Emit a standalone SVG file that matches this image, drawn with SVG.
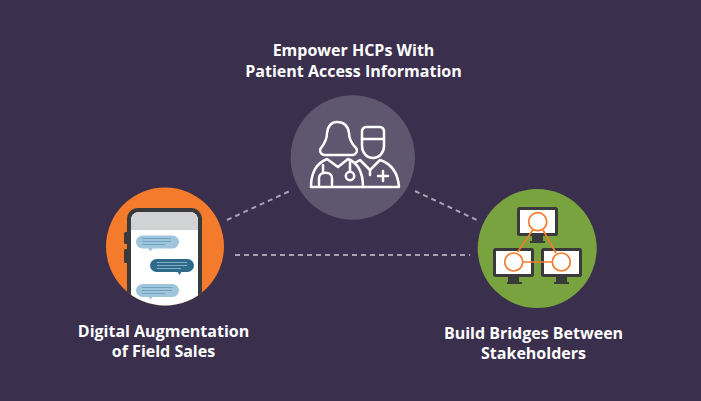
<svg xmlns="http://www.w3.org/2000/svg" width="701" height="401" viewBox="0 0 701 401">
<style>
.t{font-family:"Open Sans","Liberation Sans",sans-serif;font-weight:700;font-size:16px;fill:#fff;text-anchor:middle}
.d{fill:none;stroke:#a9a3b3;stroke-width:2;stroke-dasharray:5 4}
.w{fill:none;stroke:#fff;stroke-width:2.5;stroke-linejoin:round;stroke-linecap:round}
.b1{fill:#9fc5dc}.b2{fill:#2f6a8b}
.l1{stroke:#6fa3c0;stroke-width:1.2}.l2{stroke:#7fb0cc;stroke-width:1.2}
.m{fill:#fff;stroke:#3a3a3c;stroke-width:3}
.s{fill:#3a3a3c}
.o{fill:#fff;stroke:#f47b2b;stroke-width:1.7}
.c{stroke:#f47b2b;stroke-width:1.7;fill:none}
</style>
<defs><clipPath id="cp"><circle cx="165" cy="246.500" r="59"/></clipPath></defs>
<rect width="701" height="401" fill="#3a2f4d"/>
<g id="connectors">
<path class="d" d="M227 220L292 190"/>
<path class="d" d="M415 191L479 221"/>
<path class="d" d="M235 255H470"/>
</g>
<g id="node-hcp">
<circle cx="352.800" cy="157.500" r="62.200" fill="#5f566f"/>
<path class="w" d="M324 155C320 154 319 150 321 148C325 143 327 138 327 133C328 126 331 122 337 122C344 122 348 126 349 133C349 138 351 143 356 148C358 150 357 154 353 155Z"/>
<path class="w" d="M311 187C311 172 317 163 327 159L338 167L348 159C358 163 363 172 363 187Z"/>
<path class="w" d="M319 185V178C319 171 332 171 332 178V185"/>
<path class="w" d="M323 165V172"/>
<circle class="w" cx="350" cy="176" r="4.200"/>
<path class="w" d="M350 160V171"/>
<path class="w" d="M366 127H380C382 127 384 129 384 131V146C384 153 379 158 373 158C367 158 362 153 362 146V131C362 129 364 127 366 127Z"/>
<path class="w" d="M362 139H384"/>
<path class="w" d="M355 163L360 160L370 170L380 160C392 164 398 174 399 187H363"/>
<path class="w" d="M370 170V175M383 171V181M378 176H388"/>
<text class="t" x="353.500" y="56">Empower HCPs With</text>
<text class="t" x="353.500" y="77">Patient Access Information</text>
</g>
<g id="node-field">
<circle cx="165" cy="246.500" r="59" fill="#f47b2b"/>
<g clip-path="url(#cp)">
<rect x="124" y="232" width="5" height="12" rx="1.500" class="s"/>
<rect x="124" y="249" width="5" height="14" rx="1.500" class="s"/>
<rect x="127" y="208" width="75" height="110" rx="11" class="s"/>
<rect x="131" y="212" width="67" height="110" rx="8" fill="#fff"/>
<path d="M131 230V220a8 8 0 0 1 8-8h51a8 8 0 0 1 8 8v10Z" fill="#d1d2d4"/>
<rect x="136" y="235.500" width="43" height="13" rx="6.500" class="b1"/>
<path class="b1" d="M148 248h5l-2.500 3.500Z"/>
<path class="l1" d="M142 238.500H171M142 241.500H171M142 244.500H165"/>
<rect x="150" y="259" width="44" height="13" rx="6.500" class="b2"/>
<path class="b2" d="M177 271h5l-2.500 4Z"/>
<path class="l2" d="M157 262.500H187M157 265.500H187M157 268.500H181"/>
<rect x="136" y="284" width="43" height="13" rx="6.500" class="b1"/>
<path class="b1" d="M148 296h5l-2.500 3.500Z"/>
<path class="l1" d="M142 287.500H172M142 290.500H172M142 293.500H165"/>
</g>
<text class="t" x="163.500" y="337">Digital Augmentation</text>
<text class="t" x="163.500" y="357">of Field Sales</text>
</g>
<g id="node-bridges">
<circle cx="537.200" cy="248.500" r="59.500" fill="#78a33f"/>
<rect class="s" x="532" y="236" width="11" height="6"/><rect class="s" x="530" y="241" width="15" height="2"/>
<rect class="s" x="508" y="277" width="11" height="6"/><rect class="s" x="507" y="282" width="15" height="2"/>
<rect class="s" x="556" y="277" width="11" height="6"/><rect class="s" x="554" y="282" width="15" height="2"/>
<rect class="m" x="518.500" y="208.500" width="38" height="26" rx="1"/>
<rect class="m" x="494.500" y="249.500" width="38" height="26" rx="1"/>
<rect class="m" x="542.500" y="249.500" width="38" height="26" rx="1"/>
<path class="c" d="M532.700 230L517.700 252M543 230L556 253M523 262H552"/>
<circle class="o" cx="537.700" cy="221.700" r="9"/>
<circle class="o" cx="513.700" cy="262" r="9"/>
<circle class="o" cx="561.300" cy="262" r="9"/>
<text class="t" x="533.500" y="339">Build Bridges Between</text>
<text class="t" x="533.500" y="359">Stakeholders</text>
</g>
</svg>
